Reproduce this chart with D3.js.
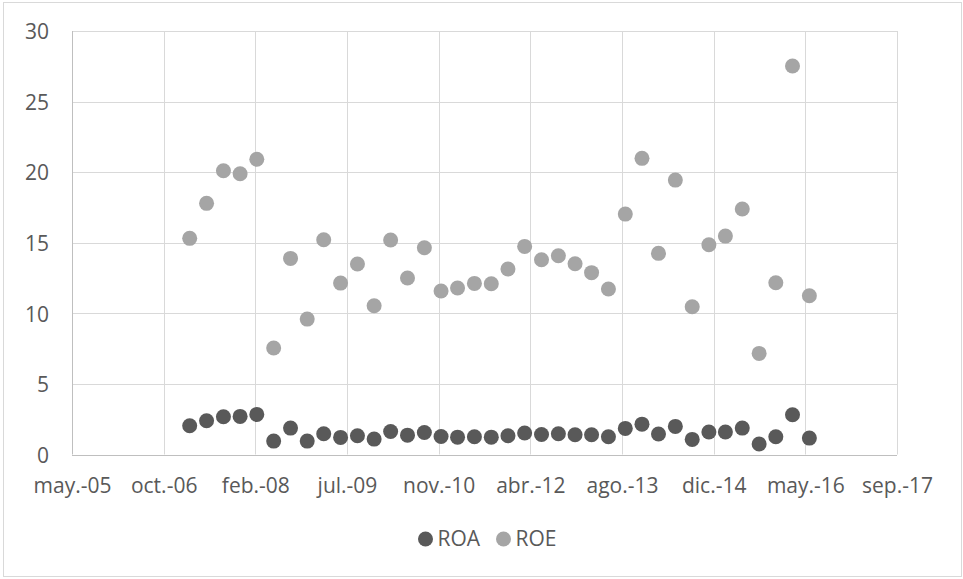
<!DOCTYPE html>
<html>
<head>
<meta charset="utf-8">
<script src="https://cdn.jsdelivr.net/npm/d3@7/dist/d3.min.js"></script>
<style>
  html, body { margin: 0; padding: 0; background: #fff; }
  svg { display: block; font-family: "Open Sans", Lato, sans-serif; }
</style>
</head>
<body>
<svg id="chart" width="963" height="579"></svg>
<script>
// Quarterly observation dates (first day of Mar/Jun/Sep/Dec)
const dates = [
  "2007-03-01","2007-06-01","2007-09-01","2007-12-01",
  "2008-03-01","2008-06-01","2008-09-01","2008-12-01",
  "2009-03-01","2009-06-01","2009-09-01","2009-12-01",
  "2010-03-01","2010-06-01","2010-09-01","2010-12-01",
  "2011-03-01","2011-06-01","2011-09-01","2011-12-01",
  "2012-03-01","2012-06-01","2012-09-01","2012-12-01",
  "2013-03-01","2013-06-01","2013-09-01","2013-12-01",
  "2014-03-01","2014-06-01","2014-09-01","2014-12-01",
  "2015-03-01","2015-06-01","2015-09-01","2015-12-01",
  "2016-03-01","2016-06-01"
];

const roa = [
  2.04, 2.39, 2.67, 2.70, 2.84, 0.95, 1.87, 0.95, 1.47, 1.21,
  1.33, 1.09, 1.63, 1.37, 1.56, 1.28, 1.23, 1.26, 1.23, 1.33,
  1.52, 1.42, 1.47, 1.40, 1.40, 1.26, 1.85, 2.15, 1.45, 1.99,
  1.07, 1.59, 1.59, 1.87, 0.74, 1.26, 2.82, 1.16
];

const roe = [
  15.31, 17.79, 20.10, 19.89, 20.91, 7.54, 13.89, 9.59, 15.21, 12.14,
  13.49, 10.54, 15.19, 12.50, 14.65, 11.58, 11.79, 12.12, 12.10, 13.14,
  14.74, 13.80, 14.08, 13.51, 12.88, 11.72, 17.03, 20.98, 14.25, 19.44,
  10.47, 14.86, 15.47, 17.39, 7.16, 12.17, 27.52, 11.25
];

// Date axis ticks, every 500 days from 28 May 2005
const xTickDates = [
  "2005-05-28","2006-10-10","2008-02-22","2009-07-06","2010-11-18",
  "2012-04-01","2013-08-14","2014-12-27","2016-05-10","2017-09-22"
];
const xTickLabels = [
  "may.-05","oct.-06","feb.-08","jul.-09","nov.-10",
  "abr.-12","ago.-13","dic.-14","may.-16","sep.-17"
];
const yTicks = [0, 5, 10, 15, 20, 25, 30];

const seriesNames = ["ROA", "ROE"];
const seriesColors = ["#595959", "#A5A5A5"];

const FONT = "'Open Sans', Lato, sans-serif";
const FONT_SIZE = "21px";

const parse = d3.utcParse("%Y-%m-%d");
const svg = d3.select("#chart");

// Outer chart frame
svg.append("rect")
  .attr("x", 3.5).attr("y", 2.5)
  .attr("width", 958).attr("height", 574)
  .attr("fill", "#fff").attr("stroke", "#d9d9d9").attr("stroke-width", 1);

const plot = { left: 72, right: 897, top: 31, bottom: 454.5 };

const x = d3.scaleUtc()
  .domain([parse(xTickDates[0]), parse(xTickDates[xTickDates.length - 1])])
  .range([plot.left, plot.right]);

const y = d3.scaleLinear()
  .domain([0, 30])
  .range([plot.bottom, plot.top]);

// Horizontal gridlines
svg.append("g")
  .selectAll("line")
  .data(yTicks.filter(d => d > 0))
  .join("line")
  .attr("x1", plot.left).attr("x2", plot.right)
  .attr("y1", d => Math.round(y(d)) + 0.5).attr("y2", d => Math.round(y(d)) + 0.5)
  .attr("stroke", "#d9d9d9").attr("stroke-width", 1);

// Vertical gridlines
svg.append("g")
  .selectAll("line")
  .data(xTickDates.slice(1))
  .join("line")
  .attr("x1", d => Math.round(x(parse(d))) + 0.5).attr("x2", d => Math.round(x(parse(d))) + 0.5)
  .attr("y1", plot.top).attr("y2", plot.bottom)
  .attr("stroke", "#d9d9d9").attr("stroke-width", 1);

// Axis lines
svg.append("line")
  .attr("x1", plot.left + 0.5).attr("x2", plot.left + 0.5)
  .attr("y1", plot.top).attr("y2", plot.bottom)
  .attr("stroke", "#bfbfbf").attr("stroke-width", 1);
svg.append("line")
  .attr("x1", plot.left).attr("x2", plot.right)
  .attr("y1", Math.round(y(0)) + 0.5).attr("y2", Math.round(y(0)) + 0.5)
  .attr("stroke", "#bfbfbf").attr("stroke-width", 1);

// Y axis labels
const yAxis = d3.axisLeft(y).tickValues(yTicks).tickSize(0).tickPadding(23).tickFormat(d3.format("d"));
svg.append("g")
  .attr("transform", `translate(${plot.left},0)`)
  .call(yAxis)
  .call(g => g.select(".domain").remove())
  .call(g => g.selectAll("text")
    .attr("dy", "0.37em")
    .attr("fill", "#595959").attr("font-size", FONT_SIZE)
    .attr("font-family", FONT));

// X axis labels
const xAxis = d3.axisBottom(x)
  .tickValues(xTickDates.map(parse))
  .tickSize(0).tickPadding(24)
  .tickFormat((d, i) => xTickLabels[i]);
svg.append("g")
  .attr("transform", `translate(0,${plot.bottom})`)
  .call(xAxis)
  .call(g => g.select(".domain").remove())
  .call(g => g.selectAll("text")
    .attr("fill", "#595959").attr("font-size", FONT_SIZE)
    .attr("font-family", FONT));

// Markers
const series = [roa, roe];
series.forEach((vals, s) => {
  svg.append("g")
    .selectAll("circle")
    .data(vals.map((v, i) => ({ date: parse(dates[i]), value: v })))
    .join("circle")
    .attr("cx", d => x(d.date))
    .attr("cy", d => y(d.value))
    .attr("r", 7.5)
    .attr("fill", seriesColors[s]);
});

// Legend
const legendItems = [
  { name: seriesNames[0], color: seriesColors[0], cx: 425.5, tx: 437.5 },
  { name: seriesNames[1], color: seriesColors[1], cx: 503.5, tx: 515.5 }
];
const legend = svg.append("g");
legendItems.forEach(item => {
  legend.append("circle")
    .attr("cx", item.cx).attr("cy", 539).attr("r", 7.5).attr("fill", item.color);
  legend.append("text")
    .attr("x", item.tx).attr("y", 539).attr("dy", "0.35em")
    .attr("fill", "#595959").attr("font-size", FONT_SIZE)
    .attr("font-family", FONT)
    .text(item.name);
});
</script>
</body>
</html>
